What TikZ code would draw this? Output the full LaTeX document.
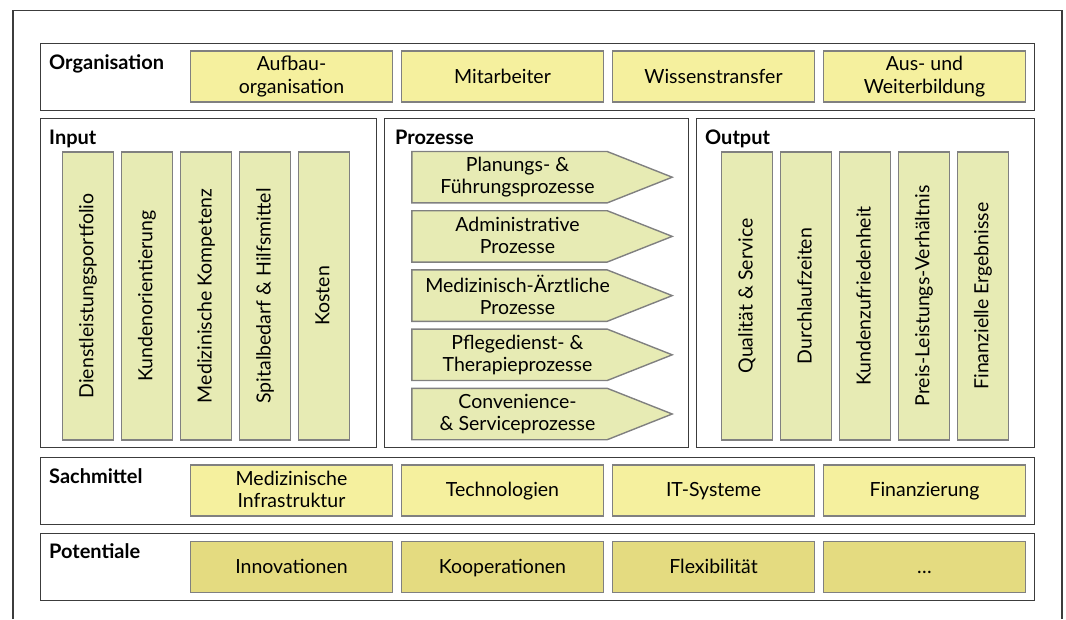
\documentclass[tikz,border=0pt]{standalone}
\usepackage{fontspec}
\setmainfont{Lato}
\usetikzlibrary{backgrounds}

\definecolor{orgyellow}{HTML}{F5F09E}
\definecolor{potyellow}{HTML}{E4DB80}
\definecolor{bargreen}{HTML}{E7EBB4}
\definecolor{framegray}{HTML}{3C3C3C}
\definecolor{boxgray}{HTML}{808080}

\newcommand{\cellfont}{\fontsize{19.5}{22.5}\selectfont}
\newcommand{\cellstrut}{\rule[-2pt]{0pt}{17.5pt}}
\newcommand{\barstrut}{\rule[-3pt]{0pt}{16pt}}

\tikzset{
    panel/.style={draw=framegray, line width=1pt},
    head/.style={anchor=base west, inner sep=0pt, font=\fontsize{20}{23}\selectfont\bfseries},
    cell/.style={draw=boxgray, line width=1.4pt, minimum width=202pt, minimum height=51pt,
        align=center, inner sep=0pt, font=\cellfont,
        execute at begin node=\cellstrut, execute at end node=\cellstrut},
    orgcell/.style={cell, fill=orgyellow},
    potcell/.style={cell, fill=potyellow},
    bar/.style={draw=boxgray, line width=1.4pt, fill=bargreen, rotate=90, minimum width=288pt,
        minimum height=51pt, inner sep=0pt, font=\cellfont, execute at begin node=\barstrut},
    procbody/.style={minimum width=211pt, minimum height=51pt, align=center, inner sep=0pt,
        font=\cellfont, execute at begin node=\cellstrut, execute at end node=\cellstrut},
    procline/.style={draw=boxgray, line width=1.4pt, fill=bargreen},
}

\begin{document}
\begin{tikzpicture}[x=1pt,y=-1pt]
    \useasboundingbox (0,0) rectangle (1066,619);
    % outer frame, open at the bottom
    \draw[framegray, line width=1.3pt] (13,619) -- (13,10.5) -- (1062,10.5) -- (1062,619);

    % bands and panels
    \draw[panel] (40,43) rectangle (1034,110);
    \draw[panel] (40,118) rectangle (376,447);
    \draw[panel] (384,118) rectangle (688,447);
    \draw[panel] (696,118) rectangle (1034,447);
    \draw[panel] (40,457) rectangle (1034,524);
    \draw[panel] (40,533) rectangle (1034,600);

    \node[head] (h-org) at (49,69.5) {Organisation};
    \node[head] (h-in) at (49,144) {Input};
    \node[head] (h-proc) at (395,144) {Prozesse};
    \node[head] (h-out) at (705,144) {Output};
    \node[head] (h-sach) at (49,483) {Sachmittel};
    \node[head] (h-pot) at (49,558.5) {Potentiale};

    % Organisation
    \foreach \txt [count=\i] in {{Aufbau-\\organisation}, Mitarbeiter, Wissenstransfer, {Aus- und\\Weiterbildung}}
        \node[orgcell] (org\i) at (80.5+211*\i,76.5) {\txt};

    % Input
    \foreach \txt [count=\i] in {Dienstleistungsportfolio, Kundenorientierung, Medizinische Kompetenz,
        Spitalbedarf \& Hilfsmittel, Kosten}
        \node[bar] (in\i) at (29+59*\i,296) {\txt};

    % Prozesse
    \foreach \txt [count=\i] in {{Planungs- \&\\Führungsprozesse}, {Administrative\\Prozesse},
        {Medizinisch-Ärztliche\\Prozesse}, {Pflegedienst- \&\\Therapieprozesse}, {Convenience-\\\& Serviceprozesse}}
        \node[procbody] (proc\i) at (517.5,118+59.2*\i) {\txt};
    \begin{scope}[on background layer]
        \foreach \i in {1,...,5}
            \draw[procline] (proc\i.north west) -- ([xshift=-16pt]proc\i.north east) -- ([xshift=49pt]proc\i.east)
                -- ([xshift=-16pt]proc\i.south east) -- (proc\i.south west) -- cycle;
    \end{scope}

    % Output
    \foreach \txt [count=\i] in {Qualität \& Service, Durchlaufzeiten, Kundenzufriedenheit,
        Preis-Leistungs-Verhältnis, Finanzielle Ergebnisse}
        \node[bar] (out\i) at (688+59*\i,296) {\txt};

    % Sachmittel
    \foreach \txt [count=\i] in {{Medizinische\\Infrastruktur}, Technologien, IT-Systeme, Finanzierung}
        \node[orgcell] (sach\i) at (80.5+211*\i,490.5) {\txt};

    % Potentiale
    \foreach \txt [count=\i] in {Innovationen, Kooperationen, Flexibilität, \dots}
        \node[potcell] (pot\i) at (80.5+211*\i,567) {\txt};
\end{tikzpicture}
\end{document}
